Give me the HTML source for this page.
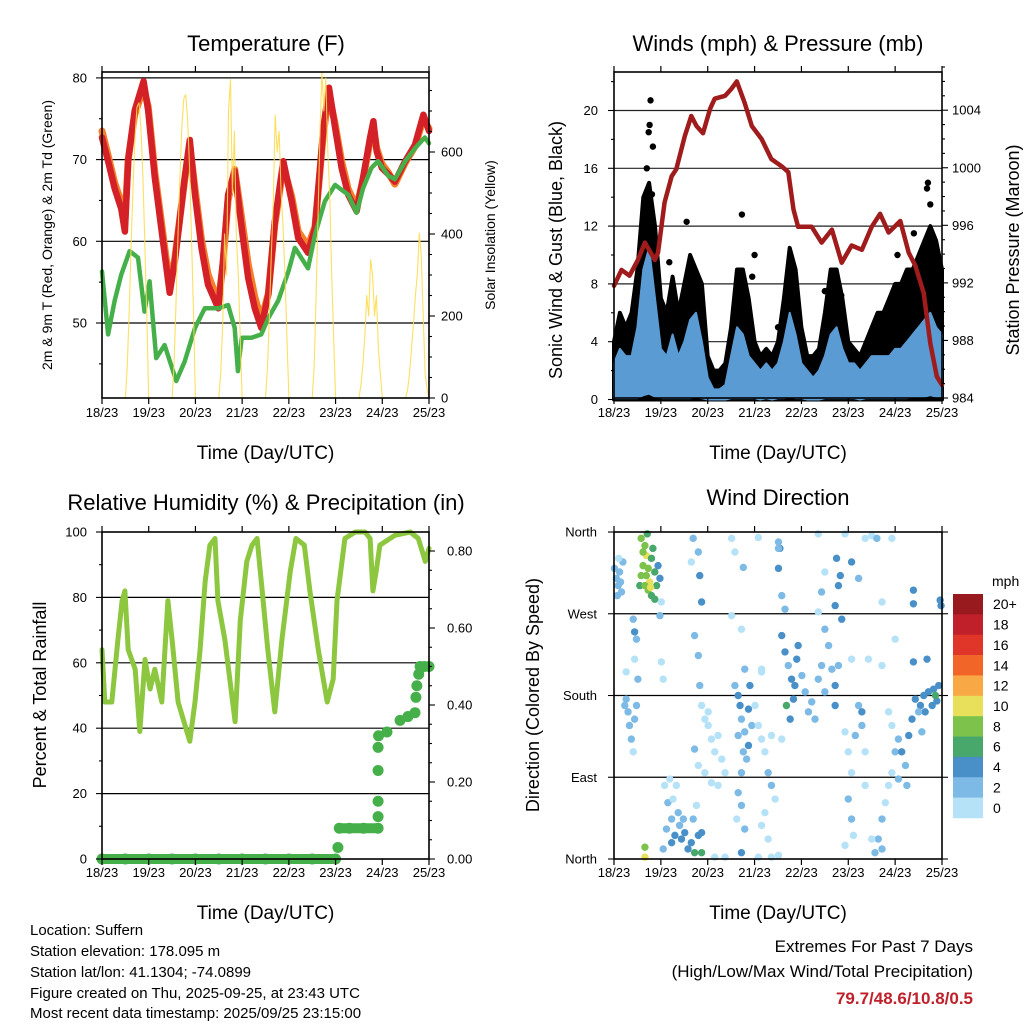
<!DOCTYPE html>
<html><head><meta charset="utf-8"><title>Weather station summary</title>
<style>
html,body{margin:0;padding:0;background:#fff;}
svg{display:block;font-family:"Liberation Sans",Arial,sans-serif;}
</style></head>
<body>
<svg id="chart" width="1024" height="1024" viewBox="0 0 1024 1024" xmlns="http://www.w3.org/2000/svg">
<rect x="0" y="0" width="1024" height="1024" fill="#fff"/>
<g id="p1"></g>
<g id="p2"></g>
<g id="p3"></g>
<g id="p4"></g>
<g id="info">
<text x="30" y="935" font-size="15">Location: Suffern</text>
<text x="30" y="956" font-size="15">Station elevation: 178.095 m</text>
<text x="30" y="977" font-size="15">Station lat/lon: 41.1304; -74.0899</text>
<text x="30" y="998" font-size="15">Figure created on Thu, 2025-09-25, at 23:43 UTC</text>
<text x="30" y="1018" font-size="15">Most recent data timestamp: 2025/09/25 23:15:00</text>
<text x="973" y="952" font-size="17" text-anchor="end">Extremes For Past 7 Days</text>
<text x="973" y="977" font-size="17" text-anchor="end">(High/Low/Max Wind/Total Precipitation)</text>
<text x="973" y="1004" font-size="17" font-weight="bold" fill="#c0202a" text-anchor="end">79.7/48.6/10.8/0.5</text>
</g>
</svg>
<script>
// ---------- DATA ----------
const dayLabels = ["18/23","19/23","20/23","21/23","22/23","23/23","24/23","25/23"];
// Temperature panel
const tempDays = [0,0.13,0.27,0.41,0.49,0.56,0.70,0.89,0.99,1.13,1.27,1.45,1.56,1.77,1.88,1.99,2.13,2.27,2.49,2.59,2.70,2.84,2.99,3.13,3.27,3.41,3.56,3.70,3.88,4.06,4.20,4.41,4.56,4.74,4.86,4.99,5.13,5.27,5.45,5.59,5.74,5.81,5.88,5.99,6.13,6.27,6.49,6.70,6.88,7.0];
const temp2m = [72.7,69.8,66.5,64,61.2,70,76,79.6,76,67.8,61.6,53.7,57.6,67.8,72.4,65.7,59.2,54.7,51.8,57.6,65.7,68.6,61.6,55.5,51.8,49.4,53.5,62.4,69.8,64.9,60.4,58.6,61.6,73.9,78.8,73.9,69,65.7,63.7,67.8,72.7,74.7,71,69,68.2,67.3,69.8,71.8,75.5,73.5];
const temp9m = [73.5,70.5,67.2,64.8,62.5,70,75.5,78.8,76.5,68.5,62.5,54.5,58,67.5,71.8,66.5,60.2,56,52.5,57.2,65,68.8,62.8,57.2,53.2,50.4,53.6,62,69.2,65.5,61.2,59.4,61.8,73.2,78,74.4,69.8,66.4,64.2,67.6,72.2,74,71.4,69.5,68.4,67,69.6,71.6,75,73.8];
const dewDays = [0,0.13,0.27,0.41,0.59,0.77,0.91,1.02,1.16,1.34,1.59,1.77,1.99,2.2,2.49,2.7,2.84,2.91,2.99,3.2,3.41,3.56,3.77,3.99,4.13,4.41,4.56,4.77,4.99,5.27,5.45,5.59,5.77,5.91,6.13,6.27,6.49,6.7,6.91,7.0];
const dewpoint = [56.3,48.6,52.7,55.9,58.8,58,51.4,55.1,45.7,47.3,42.9,45.3,49.4,51.8,51.8,52.2,49.4,44.1,48.2,48.2,48.6,50.6,52.7,56.3,59.2,56.7,60.8,64.9,66.9,65.7,63.5,66.5,69,69.8,68,67.6,69.8,71.4,72.7,72];
// hourly solar insolation 11..23 UTC per day
const solarDay0 = [0,80,220,380,520,640,710,720,660,540,380,200,0];
const solarDay1 = [0,80,230,390,540,660,730,740,680,560,390,210,0];
const solarDay2 = [0,60,180,400,300,700,776,500,650,400,300,150,0];
const solarDay3 = [0,70,200,350,480,690,600,650,500,420,300,150,0];
const solarDay4 = [0,80,250,450,650,795,700,780,600,500,300,150,0];
const solarDay5 = [0,30,80,150,250,200,337,300,200,250,120,60,0];
const solarDay6 = [0,20,60,120,180,250,300,402,350,200,60,20,0];
// Wind panel (3-hourly)
const gustHi = [4,6,5,6,9,14,15,12,7,6,8.5,6,8,10,9,8,3,2,2,2.5,5,9,9,7,4,3,3.5,3,4,7,10.5,9,5,3,3,3.5,6,9,9,7,4,3.5,3,4,5,6,6,7,8,8,9,9,10,11,12,11,9];
const windHi = [2.5,3.5,3,3,5,9,10.5,7,3.5,3,4.5,3,4,5.5,6,4,1.5,0.7,0.7,1,3,5,4.5,3,2.5,2,2.5,2,2.5,4,6,4.5,2.5,2,1.5,2,3,4.5,5,3.5,2.5,2.5,2,2.5,3,3,3,3,3.5,3.5,4,4.5,5,5.5,6,5,4.5];
const windLo = [0.1,0.1,0.1,0.1,0.1,0.3,0.4,0.2,0.1,0.1,0.1,0.1,0.1,0.1,0.2,0.1,0,0,0,0,0.1,0.1,0.1,0.1,0.1,0,0.1,0,0.1,0.1,0.2,0.1,0.1,0,0,0,0.1,0.1,0.1,0.1,0.1,0.1,0,0.1,0.1,0.1,0.1,0.1,0.1,0.1,0.1,0.2,0.2,0.2,0.3,0.2,0.2];
const gustOutDays = [0.78,0.76,0.74,0.83,1.55,1.18,2.73,3.0,2.95,6.7,6.68,6.75,6.05,6.4,0.05,3.5,4.5,4.85,0.7,0.81];
const gustOutVals = [20.7,19,18.5,17.5,12.3,9.5,12.8,10,8.5,15,14.6,13.5,10,11.5,4,5,7.5,7.2,16,14.2];
const presDays = [0,0.16,0.33,0.51,0.66,0.87,0.94,1.08,1.23,1.33,1.51,1.65,1.76,1.90,2.05,2.15,2.37,2.51,2.62,2.79,2.94,3.15,3.36,3.58,3.72,3.83,3.93,4.22,4.43,4.65,4.86,5.07,5.29,5.50,5.68,5.86,6.11,6.29,6.43,6.61,6.75,6.89,7.0];
const pressure = [991.8,992.9,992.5,993.6,994.8,993.6,994.1,997.6,999.4,999.9,1002.2,1003.6,1002.9,1002.4,1004.1,1004.8,1005,1005.5,1006,1004.5,1002.9,1002,1000.6,1000.1,999.7,997.1,995.9,995.9,994.8,995.7,993.4,994.6,994.3,995.9,996.8,995.5,996.3,994.1,993.2,991.3,987.8,985.5,984.9];
// RH & precip
const rhDays = [0,0.06,0.21,0.34,0.43,0.49,0.56,0.71,0.81,0.92,1.03,1.13,1.28,1.41,1.5,1.63,1.88,1.99,2.1,2.21,2.31,2.42,2.48,2.63,2.85,2.96,3.1,3.21,3.32,3.43,3.55,3.7,3.85,4.03,4.15,4.33,4.45,4.63,4.82,4.95,5.03,5.2,5.42,5.63,5.74,5.8,5.87,5.95,6.27,6.6,6.77,6.92,7.0];
const rhVals = [64,48,48,67,79,82,64,58,39,61,52,58,48,79,67,48,36,48,64,85,96,98,79,67,42,73,91,96,98,82,64,45,67,88,98,96,82,64,48,55,79,98,100,100,98,82,88,96,99,100,98,91,95];
const rainDays = [0,0.5,1,1.5,2,2.5,3,3.5,4,4.5,5.0,5.05,5.08,5.3,5.6,5.91,5.91,5.91,5.91,5.91,5.92,6.1,6.38,6.55,6.70,6.72,6.74,6.78,6.81,6.9,7.0];
const rainIn = [0,0,0,0,0,0,0,0,0,0,0,0.03,0.08,0.08,0.08,0.08,0.11,0.15,0.23,0.29,0.32,0.33,0.36,0.37,0.38,0.42,0.45,0.48,0.50,0.50,0.50];
// Wind direction scatter
const dirDays = [0.05,0.09,0.12,0.16,0.07,0.19,0.10,0.01,0.14,
0.58,0.66,0.62,0.69,0.73,0.76,0.80,0.83,0.87,0.91,0.55,0.66,0.73,0.80,0.62,0.69,0.87,0.94,0.98,0.71,0.58,0.78,
0.26,0.30,0.33,0.37,0.44,0.48,0.41,0.23,0.51,0.44,0.48,0.41,0.26,0.44,0.98,1.01,1.05,1.01,
1.08,1.15,1.23,1.30,1.12,1.37,1.44,1.51,1.58,1.65,1.72,1.80,1.87,1.05,1.26,1.33,1.19,1.48,1.69,1.76,1.87,1.23,1.40,
1.72,1.80,1.94,2.01,2.08,2.15,2.22,2.30,1.94,2.08,1.87,2.37,2.22,2.01,1.80,1.83,1.72,1.80,1.83,1.87,1.69,1.65,
2.65,2.69,2.72,2.79,2.87,2.83,2.72,2.65,2.72,2.62,2.79,2.87,2.94,2.65,2.76,2.58,2.90,2.79,
3.08,3.15,3.22,3.29,3.36,3.44,3.22,3.15,3.29,3.51,3.08,3.36,3.58,3.01,3.15,
3.58,3.65,3.72,3.79,3.86,3.90,3.93,3.83,3.76,3.68,4.01,4.08,4.15,3.58,3.65,3.51,3.54,3.51,
4.22,4.29,4.36,4.43,4.50,4.58,4.65,4.72,4.79,4.72,4.86,4.79,4.83,4.75,4.72,4.43,4.50,4.36,4.50,
4.93,5.00,5.07,5.15,5.00,5.07,5.11,4.93,5.22,5.29,5.36,5.36,5.29,
5.57,5.64,5.72,5.79,5.86,5.93,6.00,6.07,6.14,6.22,6.29,5.93,5.86,5.72,5.50,6.25,6.07,6.36,
6.43,6.54,6.61,6.71,6.82,6.89,6.79,6.64,6.86,6.93,6.50,6.57,
2.51,2.58,2.72,2.76,3.08,3.51,4.36,4.93,5.07,5.22,5.36,5.50,5.61,5.72,5.93,6.39,6.39,6.96,6.98,2.51,3.15,
5.07,5.43,5.72,6.00,6.68,6.39,
0.66,0.66,2.15,2.37,3.36,2.72];
const dirDegs = [309,301,316,294,290,327,331,320,305,
353,345,323,334,320,305,331,342,316,301,301,301,296,290,338,312,286,323,309,358,312,299,
176,162,147,132,154,169,118,169,198,220,242,264,206,250,268,283,198,217,
81,62,44,26,33,51,22,29,11,18,7,26,7,11,66,81,88,44,44,59,29,18,37,
121,103,154,147,132,118,136,110,95,84,169,95,81,162,224,191,246,338,312,283,353,327,
180,169,154,140,125,110,95,73,59,44,33,165,147,136,118,191,191,209,
147,132,118,95,81,66,51,37,22,4,2,136,132,169,209,
246,228,213,198,191,220,235,176,154,169,202,184,162,290,275,320,342,349,
173,154,198,213,184,235,209,191,213,169,264,301,312,331,279,294,316,272,253,
140,118,95,136,66,44,26,15,169,147,118,81,162,
7,22,44,62,81,95,118,132,118,103,136,147,162,11,22,81,88,154,
176,169,180,184,187,174,169,162,180,191,162,140,
353,338,253,321,354,342,358,358,327,309,353,356,353,283,353,296,281,285,279,268,206,
220,220,213,242,220,217,
13,2,2,2,2,7];
const dirSpeeds = [2,2,2,2,2,2,0,2,2,
8,8,8,10,8,10,6,6,6,6,6,8,8,6,8,8,6,4,4,6,8,10,
2,2,2,2,2,2,0,2,2,0,2,2,0,4,2,0,0,0,
0,2,2,4,2,2,4,4,4,4,6,4,6,2,0,0,0,2,2,0,4,4,2,
2,0,0,0,0,0,0,0,0,0,0,0,0,0,2,2,2,2,4,4,2,0,
4,4,2,2,4,2,2,2,2,0,2,4,2,2,2,2,4,2,
0,0,0,2,2,0,0,0,0,0,0,0,0,0,0,
4,4,2,4,4,4,4,4,4,6,2,2,2,2,2,4,4,2,
2,2,2,2,2,2,2,4,2,4,4,4,4,4,4,2,0,0,2,
0,0,0,2,2,2,0,0,2,2,0,0,4,
2,2,2,0,0,0,2,2,4,2,4,0,0,2,0,2,2,4,
4,4,4,4,4,4,4,4,6,4,2,2,
0,0,0,2,0,2,0,0,4,2,0,0,2,0,0,4,4,4,4,0,0,
0,0,0,0,4,4,
8,10,0,0,0,4];
const speedBins = ["0","2","4","6","8","10","12","14","16","18","20+"];
const speedColors = ["#b6e2f8","#7ebae6","#4a90c8","#48a86c","#7dc24a","#e8e05a","#f8a946","#f26529","#e0362a","#c0202a","#991a1e"];

// ---------- HELPERS ----------
const NS = "http://www.w3.org/2000/svg";
function mk(tag, attrs, parent){
  const el = document.createElementNS(NS, tag);
  for (const k in attrs) el.setAttribute(k, attrs[k]);
  parent.appendChild(el);
  return el;
}
function txt(x, y, s, size, anchor, parent, rot){
  const el = mk("text", {x:x, y:y, "font-size":size, "text-anchor":anchor||"start", fill:"#000"}, parent);
  if (rot) el.setAttribute("transform", "rotate(" + rot + " " + x + " " + y + ")");
  el.textContent = s;
  return el;
}
const F1 = {l:102, t:72, r:429, b:398};
const F2 = {l:614, t:72, r:942, b:398};
const F3 = {l:102, t:532, r:429, b:859};
const F4 = {l:614, t:532, r:942, b:859};
function xScale(F){ return d => F.l + d * (F.r - F.l) / 7; }
const x1 = xScale(F1), x2 = xScale(F2), x3 = xScale(F3), x4 = xScale(F4);
const yT = t => 323 - (t - 50) * 8.17;
const ySol = s => 398 - s * 0.41;
const yW = v => 399.5 - v * 14.45;
const yP = p => 398 - (p - 984) * 14.39;
const yRH = r => 859 - r * 3.27;
const yRain = i => 859 - i * 385;
const yD = d => 859 - d * 0.9083;

function frame(F, g){
  const r = mk("rect", {x:F.l, y:F.t, width:F.r-F.l, height:F.b-F.t, fill:"none", stroke:"#000", "stroke-width":1.6}, g);
  
  
}
function xAxis(F, xs, g, labelY){
  for (let i = 0; i < dayLabels.length; i++){
    const x = xs(i);
    const tb = mk("line", {x1:x, y1:F.b, x2:x, y2:F.b+6, stroke:"#000", "stroke-width":1.2}, g);
    
    
    const tt = mk("line", {x1:x, y1:F.t, x2:x, y2:F.t-6, stroke:"#000", "stroke-width":1.2}, g);
    
    
    const lb = txt(x, labelY, dayLabels[i], 13, "middle", g);
    
    
  }
  const at = txt((F.l+F.r)/2, labelY+42, "Time (Day/UTC)", 19, "middle", g);
  
  
}
function yTicks(vals, ys, x, dir, len, g, labels, lx, anchor){
  for (let i = 0; i < vals.length; i++){
    const y = ys(vals[i]);
    const t = mk("line", {x1:x, y1:y, x2:x+dir*len, y2:y, stroke:"#000", "stroke-width":1.1}, g);
    
    
    if (labels){
      const l = txt(lx, y+4.5, labels[i], 13, anchor, g);
      
      
    }
  }
}
function grid(vals, ys, F, g, color){
  for (const v of vals){
    const gl = mk("line", {x1:F.l, y1:ys(v), x2:F.r, y2:ys(v), stroke:color||"#000", "stroke-width":1.2}, g);
    
    
  }
}
function pts(xs, ys, X, Y){ return X.map((d,i) => xs(d).toFixed(1) + "," + ys(Y[i]).toFixed(1)).join(" "); }

// ---------- PANEL 1: TEMPERATURE ----------
const g1 = document.getElementById("p1");
const t1 = txt(266, 51, "Temperature (F)", 22, "middle", g1);


grid([50,60,70,80], yT, F1, g1);
const solarAll = [solarDay0, solarDay1, solarDay2, solarDay3, solarDay4, solarDay5, solarDay6];
const tempOrange = mk("polyline", {points:pts(x1,yT,tempDays,temp9m), fill:"none", stroke:"#f47f2a", "stroke-width":7, "stroke-linejoin":"round", "stroke-linecap":"round"}, g1);


const tempRed = mk("polyline", {points:pts(x1,yT,tempDays,temp2m), fill:"none", stroke:"#d42027", "stroke-width":6.5, "stroke-linejoin":"round", "stroke-linecap":"round"}, g1);


const dew = mk("polyline", {points:pts(x1,yT,dewDays,dewpoint), fill:"none", stroke:"#45b04a", "stroke-width":4.5, "stroke-linejoin":"round", "stroke-linecap":"round", "stroke-dasharray":"3 1.2"}, g1);


for (let k = 0; k < solarAll.length; k++){
  const sd = solarAll[k].map((v,h) => k + 0.5 + h/24);
  const sl = mk("polyline", {points:pts(x1,ySol,sd,solarAll[k]), fill:"none", stroke:"#fddc4f", "stroke-width":1.1, "stroke-linejoin":"round", opacity:0.9}, g1);
  
  
}
frame(F1, g1);
xAxis(F1, x1, g1, 417);
yTicks([50,60,70,80], yT, F1.l, -1, 6, g1, ["50","60","70","80"], 87, "end");
yTicks([45,55,65,75], yT, F1.l, -1, 3, g1);
yTicks([0,200,400,600], ySol, F1.r, 1, 6, g1, ["0","200","400","600"], 441, "start");
yTicks([50,100,150,250,300,350,450,500,550,650,700,750], ySol, F1.r, 1, 3, g1);
const yl1 = txt(52, 235, "2m & 9m T (Red, Orange) & 2m Td (Green)", 14, "middle", g1, -90);


const yr1 = txt(495, 235, "Solar Insolation (Yellow)", 14, "middle", g1, -90);



// ---------- PANEL 2: WINDS & PRESSURE ----------
const g2 = document.getElementById("p2");
const t2 = txt(778, 51, "Winds (mph) & Pressure (mb)", 22, "middle", g2);


grid([4,8,12,16,20], yW, F2, g2, "#222");
const windT = gustHi.map((v,i) => i * 0.125);
const gustPoly = windT.map((d,i) => x2(d).toFixed(1)+","+yW(gustHi[i]).toFixed(1)).concat(windT.slice().reverse().map(d => x2(d).toFixed(1)+","+yW(0).toFixed(1))).join(" ");
const gp = mk("polygon", {points:gustPoly, fill:"#000", stroke:"#000", "stroke-width":4, "stroke-linejoin":"round"}, g2);


for (let i = 0; i < gustOutDays.length; i++){
  const c = mk("circle", {cx:x2(gustOutDays[i]), cy:yW(gustOutVals[i]), r:3.2, fill:"#000"}, g2);
  
  
}
const windPoly = windT.map((d,i) => x2(d).toFixed(1)+","+yW(windHi[i]).toFixed(1)).concat(windT.slice().reverse().map((d,j) => x2(d).toFixed(1)+","+yW(windLo[windT.length-1-j]).toFixed(1))).join(" ");
const wp = mk("polygon", {points:windPoly, fill:"#5a9bd4", stroke:"#5a9bd4", "stroke-width":2, "stroke-linejoin":"round"}, g2);


const pl = mk("polyline", {points:pts(x2,yP,presDays,pressure), fill:"none", stroke:"#a01c1c", "stroke-width":4.5, "stroke-linejoin":"round", "stroke-linecap":"round"}, g2);


frame(F2, g2);
xAxis(F2, x2, g2, 417);
yTicks([0,4,8,12,16,20], yW, F2.l, -1, 6, g2, ["0","4","8","12","16","20"], 598, "end");
yTicks([2,6,10,14,18,22], yW, F2.l, -1, 3, g2);
yTicks([984,988,992,996,1000,1004], yP, F2.r, 1, 6, g2, ["984","988","992","996","1000","1004"], 952, "start");
yTicks([985,986,987,989,990,991,993,994,995,997,998,999,1001,1002,1003,1005,1006,1007], yP, F2.r, 1, 3, g2);
const yl2 = txt(562, 250, "Sonic Wind & Gust (Blue, Black)", 18, "middle", g2, -90);


const yr2 = txt(1019, 250, "Station Pressure (Maroon)", 18, "middle", g2, -90);



// ---------- PANEL 3: RH & PRECIP ----------
const g3 = document.getElementById("p3");
const t3 = txt(266, 510, "Relative Humidity (%) & Precipitation (in)", 22, "middle", g3);


grid([20,40,60,80], yRH, F3, g3);
const rh = mk("polyline", {points:pts(x3,yRH,rhDays,rhVals), fill:"none", stroke:"#8dc63f", "stroke-width":5, "stroke-linejoin":"round", "stroke-linecap":"round"}, g3);


for (let i = 0; i < rainDays.length - 1; i++){
  if (rainIn[i] === rainIn[i+1]){
    const s = mk("line", {x1:x3(rainDays[i]), y1:yRain(rainIn[i]), x2:x3(rainDays[i+1]), y2:yRain(rainIn[i+1]), stroke:"#45b04a", "stroke-width":10, "stroke-linecap":"round"}, g3);
    
    
  }
}
for (let i = 0; i < rainDays.length; i++){
  const c = mk("circle", {cx:x3(rainDays[i]), cy:yRain(rainIn[i]), r:5.5, fill:"#45b04a"}, g3);
  
  
}
frame(F3, g3);
xAxis(F3, x3, g3, 877);
yTicks([0,20,40,60,80,100], yRH, F3.l, -1, 6, g3, ["0","20","40","60","80","100"], 87, "end");
yTicks([10,30,50,70,90], yRH, F3.l, -1, 3, g3);
yTicks([0,0.2,0.4,0.6,0.8], yRain, F3.r, 1, 6, g3, ["0.00","0.20","0.40","0.60","0.80"], 447, "start");
yTicks([0.05,0.1,0.15,0.25,0.3,0.35,0.45,0.5,0.55,0.65,0.7,0.75], yRain, F3.r, 1, 3, g3);
const yl3 = txt(46, 695, "Percent & Total Rainfall", 18, "middle", g3, -90);



// ---------- PANEL 4: WIND DIRECTION ----------
const g4 = document.getElementById("p4");
const t4 = txt(778, 505, "Wind Direction", 22, "middle", g4);


grid([90,180,270], yD, F4, g4);
for (let i = 0; i < dirDays.length; i++){
  const ci = Math.min(10, Math.round(dirSpeeds[i] / 2));
  const c = mk("circle", {cx:x4(dirDays[i]), cy:yD(dirDegs[i]), r:3.7, fill:speedColors[ci]}, g4);
  
  
}
frame(F4, g4);
xAxis(F4, x4, g4, 877);
yTicks([0,90,180,270,360], yD, F4.l, -1, 6, g4, ["North","East","South","West","North"], 597, "end");
yTicks([0,90,180,270,360], yD, F4.r, 1, 6, g4);
const yl4 = txt(539, 695, "Direction (Colored By Speed)", 18, "middle", g4, -90);


// colorbar
const cbTop = 594, cbH = 20.36;
const mphLbl = txt(992, 586, "mph", 14, "start", g4);


for (let i = 0; i < speedBins.length; i++){
  const k = speedBins.length - 1 - i;
  const y = cbTop + i * cbH;
  const b = mk("rect", {x:953, y:y, width:30, height:cbH+0.3, fill:speedColors[k]}, g4);
  
  
  const l = txt(993, y + cbH/2 + 5, speedBins[k], 14, "start", g4);
  
  
}
</script>
</body></html>
